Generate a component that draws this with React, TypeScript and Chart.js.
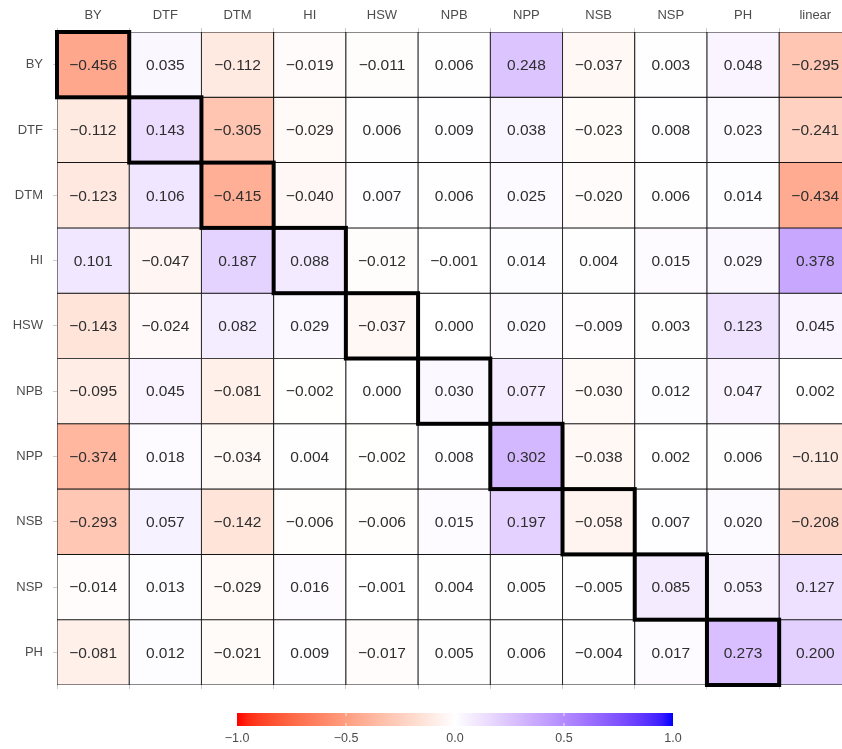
import React, { useEffect, useRef } from "react";
import { Chart, registerables } from "chart.js";

Chart.register(...registerables);

const columnLabels = ["BY", "DTF", "DTM", "HI", "HSW", "NPB", "NPP", "NSB", "NSP", "PH", "linear"];
const rowLabels = ["BY", "DTF", "DTM", "HI", "HSW", "NPB", "NPP", "NSB", "NSP", "PH"];

const rowBY = [-0.456, 0.035, -0.112, -0.019, -0.011, 0.006, 0.248, -0.037, 0.003, 0.048, -0.295];
const rowDTF = [-0.112, 0.143, -0.305, -0.029, 0.006, 0.009, 0.038, -0.023, 0.008, 0.023, -0.241];
const rowDTM = [-0.123, 0.106, -0.415, -0.04, 0.007, 0.006, 0.025, -0.02, 0.006, 0.014, -0.434];
const rowHI = [0.101, -0.047, 0.187, 0.088, -0.012, -0.001, 0.014, 0.004, 0.015, 0.029, 0.378];
const rowHSW = [-0.143, -0.024, 0.082, 0.029, -0.037, 0.0, 0.02, -0.009, 0.003, 0.123, 0.045];
const rowNPB = [-0.095, 0.045, -0.081, -0.002, 0.0, 0.03, 0.077, -0.03, 0.012, 0.047, 0.002];
const rowNPP = [-0.374, 0.018, -0.034, 0.004, -0.002, 0.008, 0.302, -0.038, 0.002, 0.006, -0.11];
const rowNSB = [-0.293, 0.057, -0.142, -0.006, -0.006, 0.015, 0.197, -0.058, 0.007, 0.02, -0.208];
const rowNSP = [-0.014, 0.013, -0.029, 0.016, -0.001, 0.004, 0.005, -0.005, 0.085, 0.053, 0.127];
const rowPH = [-0.081, 0.012, -0.021, 0.009, -0.017, 0.005, 0.006, -0.004, 0.017, 0.273, 0.2];

const rows = [rowBY, rowDTF, rowDTM, rowHI, rowHSW, rowNPB, rowNPP, rowNSB, rowNSP, rowPH];

const legendTicks = [-1.0, -0.5, 0.0, 0.5, 1.0];

// ---- colour helpers (Lab interpolation like ggplot2 gradient2) ----
type Lab = [number, number, number];
const lin = (c: number) => {
  c /= 255;
  return c <= 0.04045 ? c / 12.92 : Math.pow((c + 0.055) / 1.055, 2.4);
};
const unlin = (c: number) => {
  const v = c <= 0.0031308 ? 12.92 * c : 1.055 * Math.pow(c, 1 / 2.4) - 0.055;
  return Math.round(Math.max(0, Math.min(1, v)) * 255);
};
const Xn = 0.95047, Yn = 1, Zn = 1.08883;
function rgbToLab(r: number, g: number, b: number): Lab {
  const R = lin(r), G = lin(g), B = lin(b);
  const X = (0.4124 * R + 0.3576 * G + 0.1805 * B) / Xn;
  const Y = (0.2126 * R + 0.7152 * G + 0.0722 * B) / Yn;
  const Z = (0.0193 * R + 0.1192 * G + 0.9505 * B) / Zn;
  const f = (t: number) => (t > 0.008856 ? Math.cbrt(t) : 7.787 * t + 16 / 116);
  const fx = f(X), fy = f(Y), fz = f(Z);
  return [116 * fy - 16, 500 * (fx - fy), 200 * (fy - fz)];
}
function labToRgb(L: number, a: number, b: number): string {
  const fy = (L + 16) / 116;
  const fx = fy + a / 500;
  const fz = fy - b / 200;
  const fi = (t: number) => (t > 0.206893 ? t * t * t : (t - 16 / 116) / 7.787);
  const X = fi(fx) * Xn, Y = fi(fy) * Yn, Z = fi(fz) * Zn;
  const R = 3.2406 * X - 1.5372 * Y - 0.4986 * Z;
  const G = -0.9689 * X + 1.8758 * Y + 0.0415 * Z;
  const B = 0.0557 * X - 0.204 * Y + 1.057 * Z;
  return `rgb(${unlin(R)},${unlin(G)},${unlin(B)})`;
}
const LOW = rgbToLab(255, 0, 0);
const MID = rgbToLab(255, 255, 255);
const HIGH = rgbToLab(0, 0, 255);
function colorFor(v: number): string {
  const t = Math.max(-1, Math.min(1, v));
  const end = t < 0 ? LOW : HIGH;
  const k = Math.abs(t);
  return labToRgb(
    MID[0] + (end[0] - MID[0]) * k,
    MID[1] + (end[1] - MID[1]) * k,
    MID[2] + (end[2] - MID[2]) * k
  );
}

const fmt = (v: number) => {
  const s = Math.abs(v).toFixed(3);
  return v < 0 && s !== "0.000" ? "\u2212" + s : s;
};

const FONT = "'Liberation Sans', Arial, Helvetica, sans-serif";

export default function App() {
  const ref = useRef<HTMLCanvasElement>(null);

  useEffect(() => {
    if (!ref.current) return;

    const datasets = rows.map((vals, i) => ({
      label: rowLabels[i],
      data: vals.map((v, j) => ({ x: j, y: [i - 0.5, i + 0.5], v })),
      backgroundColor: vals.map((v) => colorFor(v)),
      borderColor: "#151515",
      borderWidth: 0.85,
      borderSkipped: false as const,
      barPercentage: 1,
      categoryPercentage: 1,
      grouped: false,
    }));

    const cellPlugin = {
      id: "cellText",
      afterDatasetsDraw(chart: any) {
        const { ctx, chartArea } = chart;
        const xs = chart.scales.x;
        const ys = chart.scales.y;
        ctx.save();
        ctx.beginPath();
        ctx.rect(chartArea.left - 3, chartArea.top - 3, chartArea.right - chartArea.left + 3, chartArea.bottom - chartArea.top + 6);
        ctx.clip();
        ctx.font = `15.5px ${FONT}`;
        ctx.fillStyle = "#2e2e2e";
        ctx.textAlign = "center";
        ctx.textBaseline = "middle";
        rows.forEach((vals, i) => {
          vals.forEach((v, j) => {
            ctx.fillText(fmt(v), xs.getPixelForValue(j), ys.getPixelForValue(i) + 1);
          });
        });
        // diagonal highlight boxes
        ctx.strokeStyle = "#000000";
        ctx.lineWidth = 4;
        rowLabels.forEach((_, i) => {
          const x0 = xs.getPixelForValue(i - 0.5);
          const x1 = xs.getPixelForValue(i + 0.5);
          const y0 = ys.getPixelForValue(i - 0.5);
          const y1 = ys.getPixelForValue(i + 0.5);
          ctx.strokeRect(x0, y0, x1 - x0, y1 - y0);
        });
        ctx.restore();
      },
      afterDraw(chart: any) {
        const { ctx } = chart;
        const left = 237, right = 673, top = 713, h = 13;
        const grad = ctx.createLinearGradient(left, 0, right, 0);
        for (let k = 0; k <= 40; k++) {
          const v = -1 + (2 * k) / 40;
          grad.addColorStop(k / 40, colorFor(v));
        }
        ctx.save();
        ctx.fillStyle = grad;
        ctx.fillRect(left, top, right - left, h);
        ctx.strokeStyle = "rgba(255,255,255,0.8)";
        ctx.lineWidth = 1;
        ctx.font = `12.5px ${FONT}`;
        ctx.textAlign = "center";
        ctx.textBaseline = "top";
        legendTicks.forEach((t) => {
          const x = left + ((t + 1) / 2) * (right - left);
          if (t > -1 && t < 1) {
            ctx.beginPath();
            ctx.moveTo(x, top);
            ctx.lineTo(x, top + 3);
            ctx.moveTo(x, top + h - 3);
            ctx.lineTo(x, top + h);
            ctx.stroke();
          }
          ctx.fillStyle = "#4d4d4d";
          ctx.fillText(t.toFixed(1).replace("-", "\u2212"), x, top + h + 6);
        });
        ctx.restore();
      },
    };

    const intTicks = (n: number) => (scale: any) => {
      scale.ticks = Array.from({ length: n }, (_, k) => ({ value: k }));
    };

    const chart = new Chart(ref.current, {
      type: "bar",
      data: { datasets: datasets as any },
      options: {
        animation: false,
        responsive: false,
        maintainAspectRatio: false,
        layout: { padding: { top: 0, left: 0, right: 0, bottom: 59 } },
        plugins: { legend: { display: false }, tooltip: { enabled: false } },
        scales: {
          x: {
            type: "linear",
            position: "top",
            min: -0.5,
            max: 10.37,
            offset: false,
            afterBuildTicks: intTicks(11),
            afterFit: (s: any) => { s.height = 32; },
            grid: { drawOnChartArea: false, drawTicks: true, tickLength: 4, color: "#cccccc" },
            border: { display: false },
            ticks: {
              autoSkip: false,
              maxRotation: 0,
              padding: 5,
              color: "#4d4d4d",
              font: { size: 13, family: FONT },
              callback: (v: any) => columnLabels[v as number] ?? "",
            },
          },
          x2: {
            type: "linear",
            position: "bottom",
            min: -0.5,
            max: 10.37,
            offset: false,
            afterBuildTicks: intTicks(11),
            afterFit: (s: any) => { s.height = 5; },
            grid: { drawOnChartArea: false, drawTicks: true, tickLength: 4, color: "#cccccc" },
            border: { display: false },
            ticks: { display: false },
          },
          y: {
            type: "linear",
            position: "left",
            reverse: true,
            min: -0.5,
            max: 9.5,
            afterBuildTicks: intTicks(10),
            afterFit: (s: any) => { s.width = 57; },
            grid: { drawOnChartArea: false, drawTicks: true, tickLength: 4, color: "#cccccc" },
            border: { display: false },
            ticks: {
              autoSkip: false,
              padding: 10,
              color: "#4d4d4d",
              font: { size: 13, family: FONT },
              callback: (v: any) => rowLabels[v as number] ?? "",
            },
          },
        },
      },
      plugins: [cellPlugin],
    });

    return () => chart.destroy();
  }, []);

  return (
    <div style={{ position: "absolute", left: 0, top: 0, width: 842, height: 749, background: "#ffffff" }}>
      <canvas ref={ref} width={842} height={749} style={{ display: "block" }} />
    </div>
  );
}
